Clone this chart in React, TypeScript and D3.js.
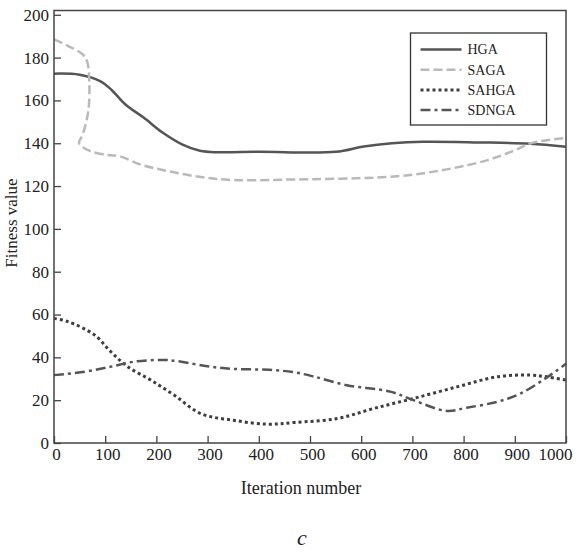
import { useEffect, useRef } from "react"
import * as d3 from "d3"

// [iteration, fitness]
const HGA = [
  [0, 172.5], [50, 172], [90, 169], [112, 165], [140, 158], [175, 152], [212, 145],
  [250, 139.5], [285, 136.5], [320, 135.8], [400, 136], [550, 136], [605, 138.5],
  [660, 140], [720, 140.7], [830, 140.4], [930, 139.8], [1000, 138.4]
]
const SAGA = [
  [0, 188.5], [27, 185.5], [56, 181.5], [65, 178], [69, 168], [67, 155], [56, 144],
  [49, 140], [70, 136.4], [105, 134.5], [127, 134], [170, 130], [222, 127], [287, 124.2],
  [350, 122.8], [450, 123], [670, 124.6], [767, 127.8], [845, 132], [897, 136.4],
  [936, 140.3], [1000, 142.5]
]
const SAHGA = [
  [0, 58.2], [27, 56.7], [79, 50.5], [111, 42.6], [144, 35.6], [189, 29.4], [235, 22.3],
  [287, 13.7], [351, 10.6], [417, 8.8], [470, 9.6], [553, 11.4], [624, 16.1], [702, 20.8],
  [787, 26.2], [865, 30.9], [930, 31.7], [962, 30.9], [1000, 29.4]
]
const SDNGA = [
  [0, 31.7], [60, 33.3], [110, 35.6], [157, 38], [210, 38.8], [240, 38.3], [300, 35.8],
  [350, 34.6], [420, 34.2], [470, 33], [508, 31], [572, 27], [657, 24], [702, 20],
  [767, 15], [806, 16.5], [865, 19.2], [910, 23], [962, 30.5], [1000, 37]
]
const SERIES_NAMES = ["HGA", "SAGA", "SAHGA", "SDNGA"]
const X_TICKS = [0, 100, 200, 300, 400, 500, 600, 700, 800, 900, 1000]
const Y_TICKS = [0, 20, 40, 60, 80, 100, 120, 140, 160, 180, 200]

const STYLES = [
  { stroke: "#555", width: 2.5, dash: null },
  { stroke: "#b9b9b9", width: 2.5, dash: "9,4" },
  { stroke: "#3e3e3e", width: 3, dash: "3,3" },
  { stroke: "#555", width: 2.5, dash: "10,4,3,4" }
]

const FONT = "'Liberation Serif', 'DejaVu Serif', serif"

export default function App() {
  const xAxisRef = useRef<SVGGElement>(null)
  const yAxisRef = useRef<SVGGElement>(null)

  const width = 577
  const height = 552
  const left = 54, right = 566, top = 10.5, bottom = 443

  const x = d3.scaleLinear().domain([0, 1000]).range([left, right])
  const y = d3.scaleLinear().domain([0, 202]).range([bottom, top])

  const line = d3.line<number[]>()
    .x(d => x(d[0]))
    .y(d => y(d[1]))
    .curve(d3.curveCatmullRom.alpha(0.5))

  const allSeries = [HGA, SAGA, SAHGA, SDNGA]

  useEffect(() => {
    const gx = d3.select(xAxisRef.current)
    gx.call(d3.axisBottom(x).tickValues(X_TICKS).tickFormat(d3.format("d"))
      .tickSizeInner(-7).tickSizeOuter(0).tickPadding(5))
    gx.selectAll(".domain").remove()
    gx.selectAll(".tick line").attr("stroke", "#444").attr("stroke-width", 1.3)
    gx.selectAll(".tick text")
      .attr("font-family", FONT).attr("font-size", 17).attr("fill", "#222")
      .attr("dx", (d: any) => (d === 1000 ? -11 : 2))

    const gy = d3.select(yAxisRef.current)
    gy.call(d3.axisLeft(y).tickValues(Y_TICKS).tickSizeInner(-7).tickSizeOuter(0).tickPadding(5))
    gy.selectAll(".domain").remove()
    gy.selectAll(".tick line").attr("stroke", "#444").attr("stroke-width", 1.3)
    gy.selectAll(".tick text")
      .attr("font-family", FONT).attr("font-size", 17).attr("fill", "#222")
  }, [])

  const legX = 410.5, legY = 33, legW = 136, legH = 92
  return (
    <div style={{ position: "absolute", left: 0, top: 0 }}>
      <svg width={width} height={height} style={{ display: "block", background: "#fff" }}>
        {allSeries.map((s, i) => (
          <path key={i} d={line(s) || ""} fill="none" stroke={STYLES[i].stroke}
            strokeWidth={STYLES[i].width} strokeDasharray={STYLES[i].dash || undefined} />
        ))}
        <rect x={left} y={top} width={right - left} height={bottom - top}
          fill="none" stroke="#444" strokeWidth={1.5} />
        <g ref={xAxisRef} transform={`translate(0,${bottom})`} />
        <g ref={yAxisRef} transform={`translate(${left},0)`} />

        <rect x={legX} y={legY} width={legW} height={legH} fill="#fff" stroke="#333" strokeWidth={1.3} />
        {SERIES_NAMES.map((name, i) => {
          const ly = legY + 16.5 + i * 20.2
          return (
            <g key={name}>
              <line x1={legX + 10} x2={legX + 51} y1={ly} y2={ly} stroke={STYLES[i].stroke}
                strokeWidth={STYLES[i].width} strokeDasharray={STYLES[i].dash || undefined} />
              <text x={legX + 57} y={ly} dy="0.35em" fontFamily={FONT} fontSize={14} fill="#222">{name}</text>
            </g>
          )
        })}

        <text x={301} y={494} textAnchor="middle" fontFamily={FONT} fontSize={18} fill="#222">Iteration number</text>
        <text transform={`translate(17,223) rotate(-90)`} textAnchor="middle" fontFamily={FONT}
          fontSize={17} fill="#222">Fitness value</text>
        <text x={302} y={545} textAnchor="middle" fontFamily={FONT} fontStyle="italic" fontSize={22} fill="#222">c</text>
      </svg>
    </div>
  )
}
